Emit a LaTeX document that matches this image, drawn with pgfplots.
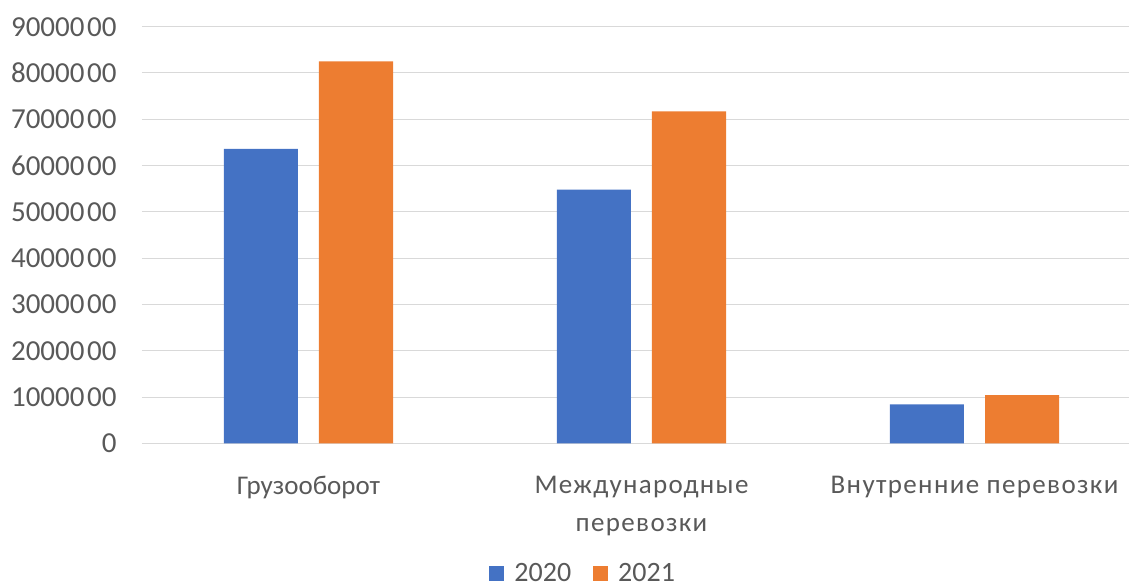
\documentclass[border=0pt]{standalone}
\usepackage{fontspec}
\setmainfont{Carlito}
\newfontfamily\spaced[LetterSpace=5]{Carlito}
\usepackage{pgfplots}
\pgfplotsset{compat=1.18}
\definecolor{c2020}{HTML}{4472C4}
\definecolor{c2021}{HTML}{ED7D31}
\definecolor{txt}{HTML}{595959}
\definecolor{gridc}{HTML}{D9D9D9}
\newcommand{\g}{\hspace{2.5pt}}
\begin{document}
\begin{tikzpicture}
\begin{axis}[
  at={(0pt,0pt)}, anchor=south west,
  scale only axis, width=987pt, height=443.3pt,
  xmin=-0.5, xmax=2.464, ymin=0, ymax=9577000,
  ybar=21pt, bar width=74pt,
  axis x line*=bottom, axis y line*=left,
  y axis line style={draw=none},
  x axis line style={draw=gridc, line width=1pt},
  major tick length=0pt, tick style={draw=none},
  ymajorgrids, grid style={draw=gridc, line width=1pt},
  scaled y ticks=false,
  ytick={0,1000000,2000000,3000000,4000000,5000000,6000000,7000000,8000000,9000000},
  yticklabels={0,10000\g00,20000\g00,30000\g00,40000\g00,50000\g00,60000\g00,70000\g00,80000\g00,90000\g00},
  xtick={0,1,2},
  xticklabels={Грузооборот,{{\spaced Международные}\\{\spaced перевозки}},{\spaced Внутренние перевозки}},
  tick label style={font=\fontsize{29}{38.4}\selectfont, text=txt},
  yticklabel style={xshift=-22pt},
  xticklabel style={align=center, yshift=-29pt, font=\fontsize{27}{38.4}\selectfont},
  legend style={draw=none, legend columns=2, at={(axis description cs:0.447,-0.261)}, anchor=north,
    font=\fontsize{28}{33}\selectfont, text=txt,
    /tikz/every odd column/.append style={column sep=8pt},
    /tikz/every even column/.append style={column sep=20pt}},
  legend image code/.code={\fill[#1] (0pt,-7.5pt) rectangle (15pt,7.5pt);},
  legend cell align=left,
]
\addplot[fill=c2020, draw=none] coordinates {(0,6360000) (1,5480000) (2,840000)};
\addplot[fill=c2021, draw=none] coordinates {(0,8250000) (1,7170000) (2,1040000)};
\legend{2020,2021}
\end{axis}
\pgfresetboundingbox
\path[use as bounding box] (-142pt,-143.7pt) rectangle (987pt,443.3pt);
\end{tikzpicture}
\end{document}
